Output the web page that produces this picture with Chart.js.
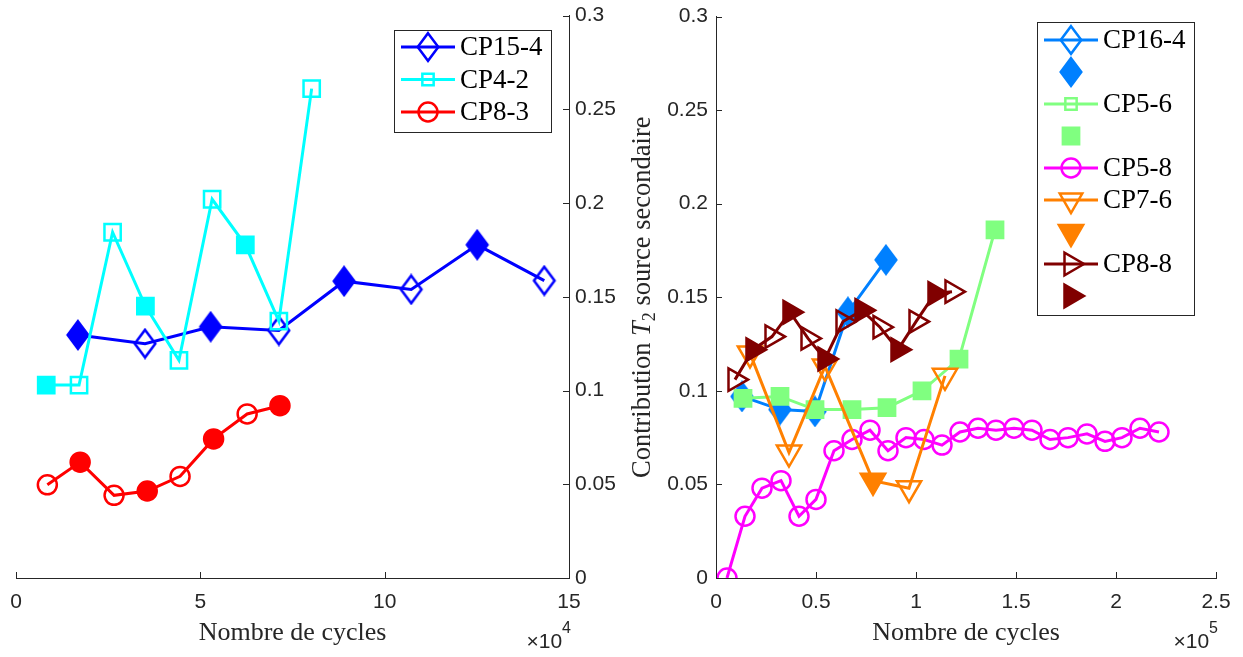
<!DOCTYPE html>
<html>
<head>
<meta charset="utf-8">
<script src="https://cdn.jsdelivr.net/npm/chart.js@4.4.1/dist/chart.umd.min.js"></script>
<style>
  body { margin: 0; background: #fff; }
  #wrap { position: relative; width: 1243px; height: 657px; overflow: hidden; }
  #left { position: absolute; left: 0; top: 0; }
  #right { position: absolute; left: 600px; top: 0; }
</style>
</head>
<body>
<div id="wrap">
  <canvas id="left" width="680" height="657"></canvas>
  <canvas id="right" width="643" height="657"></canvas>
</div>
<script>
// ---- left panel: x in cycles, y = contribution ----
const cp15_4_x = [16800, 35000, 52800, 71300, 89000, 107200, 125100, 143300];
const cp15_4_y = [0.1296, 0.125, 0.134, 0.132, 0.1583, 0.1539, 0.1777, 0.1586];
const cp15_4_filled = [1, 0, 1, 0, 1, 0, 1, 0];

const cp4_2_x = [8200, 17100, 26200, 35100, 44200, 53200, 62200, 71300, 80200];
const cp4_2_y = [0.1029, 0.1029, 0.1844, 0.145, 0.1161, 0.202, 0.1777, 0.137, 0.261];
const cp4_2_filled = [1, 0, 0, 1, 0, 0, 1, 0, 0];

const cp8_3_x = [8500, 17400, 26600, 35600, 44500, 53600, 62700, 71600];
const cp8_3_y = [0.0497, 0.0618, 0.0441, 0.0464, 0.0542, 0.0742, 0.0875, 0.0919];
const cp8_3_filled = [0, 1, 0, 1, 0, 1, 0, 1];

// ---- right panel ----
const cp16_4_x = [13000, 32000, 49500, 66000, 85000];
const cp16_4_y = [0.097, 0.090, 0.089, 0.142, 0.170];
const cp16_4_filled = [1, 1, 1, 1, 1];

const cp5_6_x = [13500, 32000, 49500, 68000, 85500, 103000, 121500, 139500];
const cp5_6_y = [0.096, 0.097, 0.090, 0.090, 0.091, 0.100, 0.117, 0.186];
const cp5_6_filled = [1, 1, 1, 1, 1, 1, 1, 1];

const cp5_8_x = [5500, 14500, 23000, 32500, 41500, 50000, 59000, 68000, 77000, 86000, 95000, 104000, 113000,
                 122000, 131000, 140000, 149000, 158000, 167000, 176000, 185500, 194500, 203000, 212000, 221500];
const cp5_8_y = [0.000, 0.033, 0.048, 0.052, 0.033, 0.042, 0.068, 0.074, 0.079, 0.068, 0.075, 0.074, 0.071,
                 0.078, 0.080, 0.079, 0.080, 0.079, 0.074, 0.075, 0.077, 0.073, 0.075, 0.080, 0.078];

const cp7_6_x = [17000, 36500, 54500, 78500, 96500, 114500];
const cp7_6_y = [0.120, 0.067, 0.113, 0.052, 0.048, 0.108];
const cp7_6_filled = [0, 0, 0, 1, 0, 0];

const cp8_8_x = [9500, 18500, 28000, 37000, 46000, 54500, 63500, 73000, 82000, 91000, 100000, 109500, 118000];
const cp8_8_y = [0.106, 0.122, 0.129, 0.142, 0.128, 0.117, 0.137, 0.143, 0.134, 0.122, 0.137, 0.152, 0.153];
const cp8_8_filled = [0, 1, 0, 1, 0, 1, 0, 1, 0, 1, 0, 1, 0];

const yTicks = [0, 0.05, 0.1, 0.15, 0.2, 0.25, 0.3];

const INK = '#262626';
const SERIF = '"Liberation Serif", "Times New Roman", serif';
const SANS = '"Liberation Sans", Arial, sans-serif';
const CLEAR = 'rgba(0,0,0,0)';

function pts(xs, ys) {
  return xs.map((x, i) => ({ x: x, y: ys[i] }));
}

// matlab diamonds are taller than wide, so build them as small images
function diamond(color, filled) {
  const c = document.createElement('canvas');
  c.width = 26; c.height = 32;
  const g = c.getContext('2d');
  g.beginPath();
  g.moveTo(13, 2.2); g.lineTo(23.3, 16); g.lineTo(13, 29.8); g.lineTo(2.7, 16);
  g.closePath();
  g.lineWidth = 2.5;
  g.strokeStyle = color;
  g.lineJoin = 'miter';
  if (filled) { g.fillStyle = color; g.fill(); }
  g.stroke();
  return c;
}

function series(label, xs, ys, filled, color, style, radius, rot, order) {
  const f = filled || xs.map(() => 0);
  let pointStyle = style;
  if (style === 'diamond') {
    const open = diamond(color, false), full = diamond(color, true);
    pointStyle = ctx => f[ctx.dataIndex] ? full : open;
  }
  return {
    label: label,
    data: pts(xs, ys),
    order: order,
    showLine: true,
    tension: 0,
    borderColor: color,
    borderWidth: 3,
    pointStyle: pointStyle,
    pointRotation: rot,
    pointRadius: radius,
    pointHoverRadius: radius,
    pointBorderWidth: 2.5,
    pointBorderColor: color,
    pointBackgroundColor: f.map(v => v ? color : CLEAR)
  };
}

// tick marks pointing into the plot, as in the original
const inTicks = {
  id: 'inTicks',
  afterDraw(chart) {
    const ctx = chart.ctx, ca = chart.chartArea;
    const xs = chart.scales.x, ys = chart.scales.y;
    ctx.save();
    ctx.strokeStyle = INK;
    ctx.lineWidth = 1;
    xs.ticks.forEach(t => {
      const p = Math.round(xs.getPixelForValue(t.value)) + 0.5;
      ctx.beginPath(); ctx.moveTo(p, ca.bottom); ctx.lineTo(p, ca.bottom - 6); ctx.stroke();
    });
    const onRight = ys.position === 'right';
    const ax = onRight ? ca.right : ca.left;
    ys.ticks.forEach(t => {
      const p = Math.round(ys.getPixelForValue(t.value)) + 0.5;
      ctx.beginPath(); ctx.moveTo(ax, p); ctx.lineTo(onRight ? ax - 6 : ax + 6, p); ctx.stroke();
    });
    ctx.restore();
  }
};

const axisText = {
  id: 'axisText',
  afterDraw(chart, args, o) {
    const ctx = chart.ctx, ca = chart.chartArea;
    ctx.save();
    ctx.fillStyle = INK;
    ctx.font = '26px ' + SERIF;
    ctx.textAlign = 'center';
    ctx.textBaseline = 'middle';
    ctx.fillText('Nombre de cycles', (ca.left + ca.right) / 2, 633);

    // x10^n multiplier
    ctx.textAlign = 'left';
    ctx.textBaseline = 'alphabetic';
    ctx.font = '21px ' + SANS;
    const w1 = ctx.measureText('\u00d710').width;
    ctx.font = '16px ' + SANS;
    const w2 = ctx.measureText(o.exp).width;
    const x0 = ca.right + 2 - w1 - w2;
    ctx.font = '21px ' + SANS;
    ctx.fillText('\u00d710', x0, 648);
    ctx.font = '16px ' + SANS;
    ctx.fillText(o.exp, x0 + w1, 633);

    if (o.yTitle) {
      const parts = [
        { t: 'Contribution ', f: '26.5px ' + SERIF, dy: 0 },
        { t: 'T', f: 'italic 26.5px ' + SERIF, dy: 0 },
        { t: '2', f: '18px ' + SERIF, dy: 7 },
        { t: ' source secondaire', f: '26.5px ' + SERIF, dy: 0 }
      ];
      let total = 0;
      parts.forEach(p => { ctx.font = p.f; p.w = ctx.measureText(p.t).width; total += p.w; });
      ctx.translate(o.yTitleX, (ca.top + ca.bottom) / 2);
      ctx.rotate(-Math.PI / 2);
      ctx.textBaseline = 'middle';
      let x = -total / 2;
      parts.forEach(p => { ctx.font = p.f; ctx.fillText(p.t, x, p.dy); x += p.w; });
    }
    ctx.restore();
  }
};

const boxLegend = {
  id: 'boxLegend',
  afterDraw(chart, args, o) {
    const ctx = chart.ctx;
    ctx.save();
    ctx.fillStyle = '#fff';
    ctx.fillRect(o.x, o.y, o.w, o.h);
    ctx.strokeStyle = INK;
    ctx.lineWidth = 1;
    ctx.strokeRect(o.x + 0.5, o.y + 0.5, o.w, o.h);
    o.rows.forEach((r, i) => {
      const y = o.y + o.first + i * o.step;
      const mx = o.x + 34;
      if (r.line) {
        ctx.strokeStyle = r.color;
        ctx.lineWidth = 3;
        ctx.beginPath(); ctx.moveTo(o.x + 7, y); ctx.lineTo(o.x + 61, y); ctx.stroke();
      }
      if (r.style === 'diamond') {
        const img = diamond(r.color, r.filled);
        ctx.drawImage(img, mx - img.width / 2, y - img.height / 2);
      } else {
        ctx.strokeStyle = r.color;
        ctx.fillStyle = r.filled ? r.color : CLEAR;
        ctx.lineWidth = 2.5;
        Chart.helpers.drawPoint(ctx, { pointStyle: r.style, rotation: r.rot, radius: r.r, borderWidth: 2.5 }, mx, y);
      }
      if (r.label) {
        ctx.fillStyle = '#000';
        ctx.font = '27px ' + SERIF;
        ctx.textAlign = 'left';
        ctx.textBaseline = 'middle';
        ctx.fillText(r.label, o.x + 66, y + 1);
      }
    });
    ctx.restore();
  }
};

function fmt(v) {
  return String(parseFloat(v.toFixed(4)));
}

function axes(xTicks, xDiv, yPos, yWidth) {
  return {
    x: {
      type: 'linear', min: 0, max: xTicks[xTicks.length - 1],
      afterBuildTicks: s => { s.ticks = xTicks.map(v => ({ value: v })); },
      afterFit: s => { s.height = 79; s.paddingLeft = 0; s.paddingRight = 0; },
      grid: { display: true, drawOnChartArea: false, drawTicks: false },
      border: { display: true, color: INK, width: 1 },
      ticks: { color: INK, font: { family: SANS, size: 21 }, padding: 12, maxRotation: 0, autoSkip: false,
               callback: v => fmt(v / xDiv) }
    },
    y: {
      type: 'linear', position: yPos, min: 0, max: 0.3,
      afterBuildTicks: s => { s.ticks = yTicks.map(v => ({ value: v })); },
      afterFit: s => { s.width = yWidth; s.paddingTop = 0; s.paddingBottom = 0; },
      grid: { display: true, drawOnChartArea: false, drawTicks: false },
      border: { display: true, color: INK, width: 1 },
      ticks: { color: INK, font: { family: SANS, size: 21 }, padding: yPos === 'right' ? 6 : 8, autoSkip: false,
               callback: v => fmt(v) }
    }
  };
}

const leftXTicks = [0, 50000, 100000, 150000];
const rightXTicks = [0, 50000, 100000, 150000, 200000, 250000];

const common = {
  responsive: false,
  animation: false,
  events: [],
  plugins: { legend: { display: false }, tooltip: { enabled: false } }
};

new Chart(document.getElementById('left'), {
  type: 'scatter',
  data: {
    datasets: [
      series('CP15-4', cp15_4_x, cp15_4_y, cp15_4_filled, '#0000ff', 'diamond', 13, 0, 3),
      series('CP4-2', cp4_2_x, cp4_2_y, cp4_2_filled, '#00ffff', 'rect', 11.5, 0, 2),
      series('CP8-3', cp8_3_x, cp8_3_y, cp8_3_filled, '#ff0000', 'circle', 9.5, 0, 1)
    ]
  },
  options: Object.assign({}, common, {
    layout: { padding: { left: 16, right: 64, top: 12, bottom: 0 } },
    scales: axes(leftXTicks, 1e4, 'right', 47),
    plugins: Object.assign({}, common.plugins, {
      axisText: { exp: '4', yTitle: false },
      boxLegend: {
        x: 394, y: 30, w: 157, h: 102, first: 17, step: 32.5,
        rows: [
          { label: 'CP15-4', color: '#0000ff', style: 'diamond', rot: 0, r: 13, line: true, filled: false },
          { label: 'CP4-2', color: '#00ffff', style: 'rect', rot: 0, r: 8, line: true, filled: false },
          { label: 'CP8-3', color: '#ff0000', style: 'circle', rot: 0, r: 9.5, line: true, filled: false }
        ]
      }
    })
  }),
  plugins: [inTicks, axisText, boxLegend]
});

new Chart(document.getElementById('right'), {
  type: 'scatter',
  data: {
    datasets: [
      series('CP16-4', cp16_4_x, cp16_4_y, cp16_4_filled, '#0080ff', 'diamond', 13, 0, 5),
      series('CP5-6', cp5_6_x, cp5_6_y, cp5_6_filled, '#80ff80', 'rect', 11.5, 0, 4),
      series('CP5-8', cp5_8_x, cp5_8_y, null, '#ff00ff', 'circle', 9.5, 0, 3),
      series('CP7-6', cp7_6_x, cp7_6_y, cp7_6_filled, '#ff8000', 'triangle', 14, 180, 2),
      series('CP8-8', cp8_8_x, cp8_8_y, cp8_8_filled, '#800000', 'triangle', 13, 90, 1)
    ]
  },
  options: Object.assign({}, common, {
    layout: { padding: { left: 0, right: 27, top: 12, bottom: 0 } },
    scales: axes(rightXTicks, 1e5, 'left', 116),
    plugins: Object.assign({}, common.plugins, {
      axisText: { exp: '5', yTitle: true, yTitleX: 43 },
      boxLegend: {
        x: 437, y: 22, w: 157, h: 293, first: 18, step: 32,
        rows: [
          { label: 'CP16-4', color: '#0080ff', style: 'diamond', rot: 0, r: 13, line: true, filled: false },
          { label: '', color: '#0080ff', style: 'diamond', rot: 0, r: 13, line: false, filled: true },
          { label: 'CP5-6', color: '#80ff80', style: 'rect', rot: 0, r: 8, line: true, filled: false },
          { label: '', color: '#80ff80', style: 'rect', rot: 0, r: 11.5, line: false, filled: true },
          { label: 'CP5-8', color: '#ff00ff', style: 'circle', rot: 0, r: 9.5, line: true, filled: false },
          { label: 'CP7-6', color: '#ff8000', style: 'triangle', rot: 180, r: 13, line: true, filled: false },
          { label: '', color: '#ff8000', style: 'triangle', rot: 180, r: 14, line: false, filled: true },
          { label: 'CP8-8', color: '#800000', style: 'triangle', rot: 90, r: 13, line: true, filled: false },
          { label: '', color: '#800000', style: 'triangle', rot: 90, r: 13, line: false, filled: true }
        ]
      }
    })
  }),
  plugins: [inTicks, axisText, boxLegend]
});
</script>
</body>
</html>
